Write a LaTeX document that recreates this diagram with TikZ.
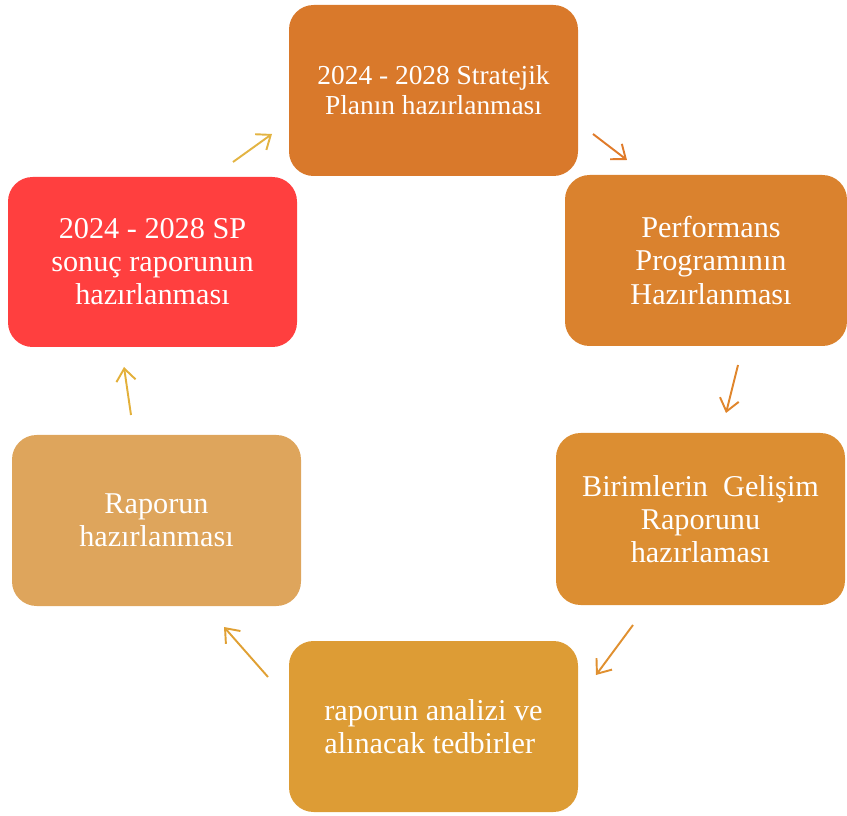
\documentclass[tikz,border=0pt]{standalone}
\usepackage{fontspec}
\setmainfont{Liberation Serif}
\usepackage{tikz}
\usetikzlibrary{
  shapes,
  arrows.meta,
  positioning
}
\usepackage{xcolor}
\definecolor{stratOrange}{RGB}{217,121,43}
\definecolor{perfOrange}{RGB}{218,130,46}
\definecolor{birimOrange}{RGB}{220,142,50}
\definecolor{analizGold}{RGB}{221,156,53}
\definecolor{raporTan}{RGB}{222,165,92}
\definecolor{sonucRed}{RGB}{255,63,63}
\tikzset{
  every picture/.style={line width=0.75pt},
  stepbox/.style={rectangle, rounded corners=14pt, minimum width=5.78cm,
    minimum height=3.42cm, text=white, align=center, inner sep=0pt},
  smalltext/.style={font=\fontsize{15.6}{17}\selectfont},
  bigtext/.style={font=\fontsize{17.2}{18.8}\selectfont},
  cyclearrow/.style={line width=1.1pt, -{Straight Barb[length=7pt,width=11pt]}}
}

\begin{document}
\begin{tikzpicture}
\useasboundingbox (0,0) rectangle (16.94,16.3);

% Kutular
\node[stepbox, smalltext, fill=stratOrange] (plan) at (8.67, 14.49)
  {2024 - 2028 Stratejik\\Planın hazırlanması};
\node[stepbox, bigtext, fill=perfOrange, minimum width=5.64cm] (perf) at (14.12, 11.09)
  {\hspace*{0.2cm}Performans\\\hspace*{0.2cm}Programının\\\hspace*{0.2cm}Hazırlanması};
\node[stepbox, bigtext, fill=birimOrange, minimum height=3.44cm] (birim) at (14.01, 5.92)
  {Birimlerin~~Gelişim\\Raporunu\\hazırlaması};
\node[stepbox, bigtext, fill=analizGold, align=left] (analiz) at (8.67, 1.77)
  {raporun analizi ve\\alınacak tedbirler};
\node[stepbox, bigtext, fill=raporTan] (rapor) at (3.13, 5.89)
  {Raporun\\hazırlanması};
\node[stepbox, bigtext, fill=sonucRed, minimum height=3.4cm] (sonuc) at (3.05, 11.06)
  {2024 - 2028 SP\\sonuç raporunun\\hazırlanması};

% Oklar
\coordinate (s1) at (4.66, 13.06);  \coordinate (e1) at (5.44, 13.62);
\coordinate (s2) at (11.86, 13.62); \coordinate (e2) at (12.54, 13.10);
\coordinate (s3) at (14.76, 9.00);  \coordinate (e3) at (14.52, 8.04);
\coordinate (s4) at (12.66, 3.80);  \coordinate (e4) at (11.92, 2.80);
\coordinate (s5) at (5.36, 2.76);   \coordinate (e5) at (4.48, 3.76);
\coordinate (s6) at (2.62, 8.00);   \coordinate (e6) at (2.48, 8.96);

\draw[cyclearrow, draw={rgb,255:red,227;green,180;blue,67}] (s1) -- (e1);
\draw[cyclearrow, draw={rgb,255:red,224;green,123;blue,42}] (s2) -- (e2);
\draw[cyclearrow, draw={rgb,255:red,224;green,134;blue,44}] (s3) -- (e3);
\draw[cyclearrow, draw={rgb,255:red,224;green,144;blue,48}] (s4) -- (e4);
\draw[cyclearrow, draw={rgb,255:red,224;green,160;blue,51}] (s5) -- (e5);
\draw[cyclearrow, draw={rgb,255:red,227;green,176;blue,58}] (s6) -- (e6);
\end{tikzpicture}
\end{document}
